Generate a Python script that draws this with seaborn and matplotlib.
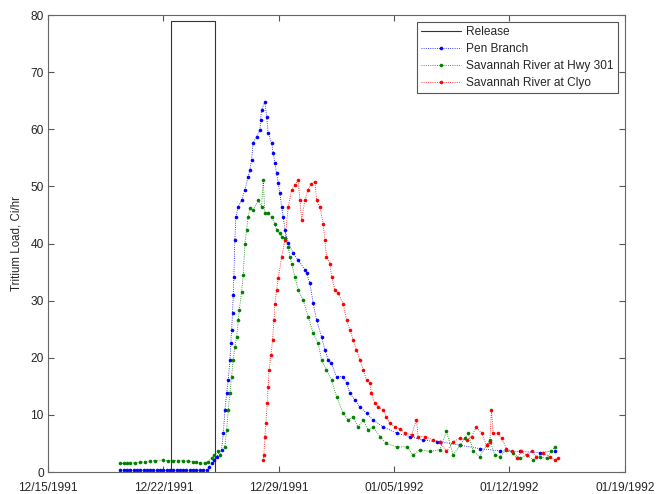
import numpy as np
import pandas as pd
import matplotlib
matplotlib.use("Agg")
import matplotlib.pyplot as plt
import matplotlib.dates as mdates
import seaborn as sns

# ---- data (day offsets from 1991-12-15 00:00, load in Ci/hr) ----
release_days = [7.47, 7.47, 10.13, 10.13]
release_vals = [0, 79, 79, 0]

pen_days = [4.4, 4.6, 4.8, 5.0, 5.2, 5.4, 5.6, 5.8, 6.0, 6.2, 6.4, 6.6, 6.8, 7.0, 7.2,
            7.4, 7.6, 7.8, 8.0, 8.2, 8.4, 8.6, 8.8, 9.0, 9.2, 9.4, 9.62, 9.8, 9.95, 10.1,
            10.23, 10.53, 10.64, 10.74, 10.84, 10.94, 11.04, 11.1, 11.14, 11.2, 11.24, 11.28,
            11.34, 11.4, 11.54, 11.75, 11.95, 12.15, 12.25, 12.35, 12.45, 12.66, 12.86, 12.9,
            12.96, 13.16, 13.27, 13.36, 13.57, 13.67, 13.77, 13.87, 13.97, 14.07, 14.18, 14.27,
            14.38, 14.58, 14.88, 15.18, 15.59, 15.69, 15.89, 16.09, 16.3, 16.6, 16.8, 17.0,
            17.2, 17.51, 17.91, 18.12, 18.32, 18.62, 18.93, 19.33, 19.73, 20.34, 21.15, 21.96,
            22.77, 23.58, 23.78, 24.99, 26.2, 27.42, 28.63, 29.84, 30.75]
pen_vals = [0.3, 0.3, 0.3, 0.3, 0.3, 0.3, 0.3, 0.3, 0.3, 0.3, 0.3, 0.3, 0.3, 0.3, 0.3,
            0.3, 0.3, 0.3, 0.3, 0.3, 0.3, 0.3, 0.3, 0.3, 0.3, 0.3, 0.4, 0.9, 1.5, 2.1,
            2.7, 3.9, 6.8, 10.9, 13.8, 16.1, 19.6, 22.6, 24.9, 27.8, 31.0, 34.2,
            40.6, 44.7, 46.4, 47.6, 49.4, 51.7, 52.9, 54.6, 57.6, 58.7, 59.9, 61.6,
            63.4, 64.8, 62.2, 59.3, 57.6, 55.8, 54.1, 52.3, 50.6, 48.8, 46.4, 44.7,
            42.4, 40.1, 38.3, 37.1, 35.4, 34.8, 33.1, 29.6, 26.6, 23.7, 21.4, 19.6,
            19.0, 16.7, 16.7, 15.6, 13.8, 12.6, 11.4, 10.3, 9.1, 7.9, 6.8, 6.2,
            5.6, 5.3, 5.3, 4.7, 4.1, 3.7, 3.6, 3.4, 3.7]

hwy_days = [4.37, 4.6, 4.8, 5.0, 5.3, 5.6, 5.9, 6.2, 6.5, 6.98, 7.3, 7.6, 7.9, 8.19, 8.5,
            8.8, 9.0, 9.22, 9.5, 9.7, 9.93, 10.1, 10.33, 10.43, 10.74, 10.84, 10.94, 11.04,
            11.14, 11.24, 11.34, 11.45, 11.55, 11.61, 11.75, 11.85, 11.95, 12.05, 12.15, 12.25,
            12.45, 12.76, 12.96, 13.06, 13.16, 13.36, 13.57, 13.77, 13.87, 14.07, 14.18, 14.38,
            14.58, 14.68, 14.78, 14.98, 15.18, 15.49, 15.79, 16.09, 16.4, 16.6, 16.9, 17.21,
            17.51, 17.91, 18.22, 18.52, 18.82, 19.13, 19.43, 19.73, 20.14, 20.54, 21.15, 21.76,
            22.16, 22.57, 23.17, 23.78, 24.18, 24.59, 24.99, 25.29, 25.5, 25.8, 26.2, 26.61,
            26.81, 27.11, 27.42, 27.82, 28.22, 28.63, 29.04, 29.44, 29.84, 30.25, 30.55, 30.75]
hwy_vals = [1.5, 1.5, 1.5, 1.6, 1.6, 1.7, 1.8, 1.9, 2.0, 2.1, 2.0, 2.0, 2.0, 2.0, 1.9,
            1.8, 1.7, 1.6, 1.6, 1.8, 2.4, 2.9, 3.6, 3.0, 4.4, 7.4, 10.9, 13.8,
            16.7, 19.6, 21.9, 23.7, 26.6, 28.4, 31.6, 34.5, 40.0, 42.4, 44.7, 46.2,
            45.9, 47.6, 46.4, 51.1, 45.3, 45.3, 44.7, 43.5, 42.4, 41.8, 41.2, 40.9,
            39.4, 37.7, 36.5, 34.2, 31.9, 30.1, 27.2, 24.3, 22.5, 19.6, 17.9, 16.1,
            13.2, 10.3, 9.1, 9.7, 7.9, 9.1, 7.4, 7.9, 6.2, 5.0, 4.4, 4.4,
            3.0, 3.9, 3.6, 3.9, 7.1, 3.0, 4.7, 5.9, 6.8, 3.6, 2.7, 4.7,
            5.6, 3.0, 2.7, 3.9, 3.3, 2.4, 3.0, 2.1, 2.7, 2.4, 3.6, 4.4]

clyo_days = [13.06, 13.1, 13.16, 13.22, 13.3, 13.36, 13.42, 13.53, 13.63, 13.71, 13.77, 13.87,
             13.97, 14.18, 14.38, 14.58, 14.78, 14.98, 15.18, 15.29, 15.39, 15.59, 15.79, 15.99,
             16.2, 16.3, 16.5, 16.7, 16.8, 16.9, 17.1, 17.21, 17.41, 17.61, 17.91, 18.12, 18.32,
             18.52, 18.72, 18.93, 19.13, 19.33, 19.53, 19.63, 19.83, 20.04, 20.34, 20.54, 20.74,
             21.05, 21.35, 21.66, 22.06, 22.36, 22.46, 22.87, 23.37, 23.78, 24.18, 24.59, 24.99,
             25.4, 25.7, 26.0, 26.31, 26.61, 26.81, 26.91, 27.01, 27.31, 27.52, 27.82, 28.13,
             28.43, 28.73, 29.04, 29.34, 29.64, 30.05, 30.45, 30.75, 30.95]
clyo_vals = [2.1, 3.0, 6.2, 8.5, 12.0, 14.9, 17.9, 20.5, 23.1, 26.6, 29.5, 31.9,
             33.9, 37.7, 40.6, 46.4, 49.4, 50.2, 51.1, 47.6, 44.1, 47.6, 49.4, 50.5,
             50.8, 47.6, 46.4, 43.5, 40.6, 37.7, 36.5, 34.2, 31.9, 31.3, 29.5, 26.6, 24.9,
             23.1, 21.4, 19.6, 17.9, 16.1, 15.5, 13.8, 12.0, 11.4, 10.9, 9.7, 8.5,
             7.9, 7.6, 6.8, 6.5, 9.1, 6.2, 6.2, 5.6, 5.3, 3.6, 5.3, 5.9,
             5.6, 6.2, 7.9, 6.8, 4.7, 5.3, 10.9, 6.8, 6.8, 5.9, 4.1, 3.6,
             2.4, 3.6, 3.0, 3.6, 2.7, 3.3, 2.7, 2.1, 2.4]

series_names = ["Pen Branch", "Savannah River at Hwy 301", "Savannah River at Clyo"]
series_colors = ["#0000ff", "#008000", "#ff0000"]

origin = pd.Timestamp("1991-12-15")
tick_dates = pd.date_range("1991-12-15", "1992-01-19", freq="7D")


def to_time(days):
    return origin + pd.to_timedelta(np.asarray(days), unit="D")


sns.set_style("white")
plt.rcParams["font.family"] = ["Liberation Sans", "DejaVu Sans"]

fig = plt.figure(figsize=(6.57, 4.94), dpi=100)
ax = fig.add_axes([0.073, 0.0445, 0.878, 0.925])

rel = pd.DataFrame({"t": to_time(release_days), "v": release_vals})
sns.lineplot(data=rel, x="t", y="v", ax=ax, color="#333333", lw=0.8,
             sort=False, estimator=None, label="Release")

for name, days, vals, col in zip(series_names, [pen_days, hwy_days, clyo_days],
                                 [pen_vals, hwy_vals, clyo_vals], series_colors):
    df = pd.DataFrame({"t": to_time(days), "v": vals})
    sns.lineplot(data=df, x="t", y="v", ax=ax, color=col, lw=0.6, ls=":",
                 marker="o", markersize=2.6, markeredgewidth=0, sort=False,
                 estimator=None, label=name)

ax.set_xlim(tick_dates[0], tick_dates[-1])
ax.set_ylim(0, 80)
ax.set_xticks(tick_dates)
ax.xaxis.set_major_formatter(mdates.DateFormatter("%m/%d/%Y"))
ax.set_yticks(np.arange(0, 81, 10))
ax.set_xlabel("")
ax.set_ylabel("Tritium Load, Ci/hr", fontsize=8.3, labelpad=6)
ax.tick_params(direction="in", length=4, width=0.8, color="#555555",
               labelsize=8.6, top=True, right=True, bottom=True, left=True,
               pad=3)
ax.tick_params(axis="x", pad=7)
for s in ax.spines.values():
    s.set_color("#666666")
    s.set_linewidth(0.8)

leg = ax.legend(loc="upper right", fontsize=8.6, fancybox=False, framealpha=1,
                edgecolor="#555555", handlelength=3.4, handletextpad=0.4,
                borderpad=0.35, labelspacing=0.42, borderaxespad=0,
                bbox_to_anchor=(0.988, 0.985))
leg.get_frame().set_linewidth(0.8)

fig.savefig("out.png", dpi=100)
